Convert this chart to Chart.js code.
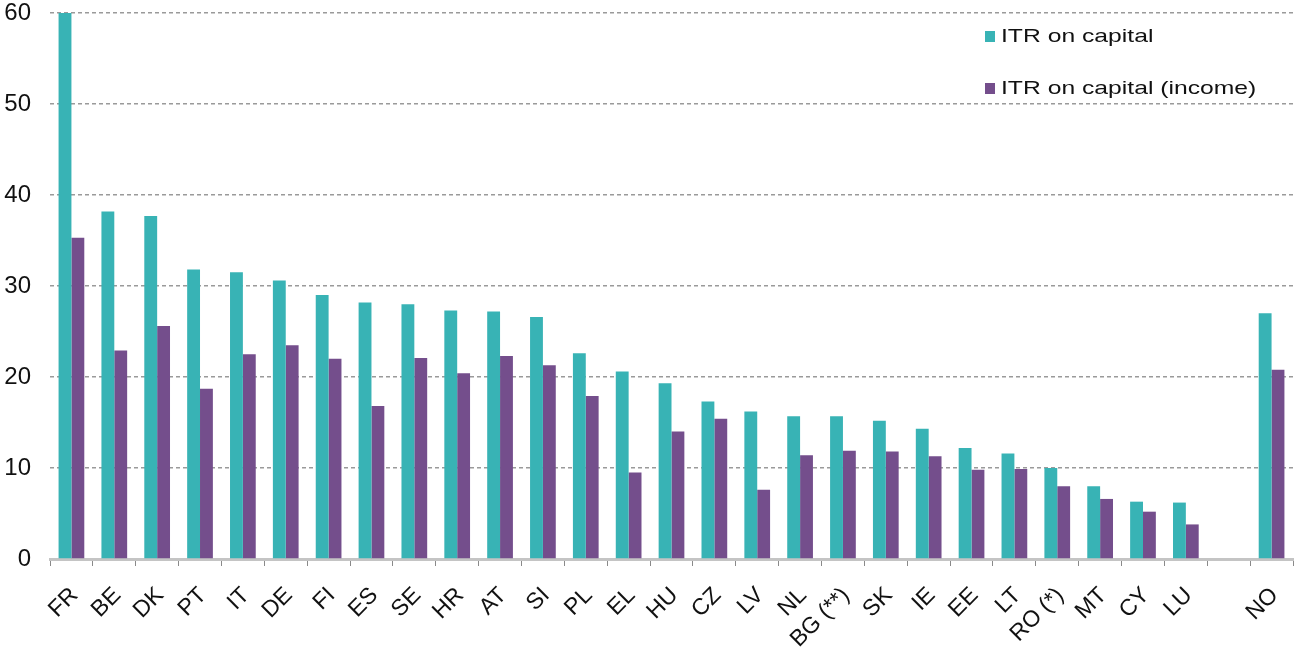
<!DOCTYPE html>
<html>
<head>
<meta charset="utf-8">
<script src="https://cdn.jsdelivr.net/npm/chart.js@4.4.1/dist/chart.umd.min.js"></script>
<style>
html,body{margin:0;padding:0;background:#fff;}
#c{display:block;}
</style>
</head>
<body>
<canvas id="c" width="1299" height="653"></canvas>
<script>
const categories = ['FR','BE','DK','PT','IT','DE','FI','ES','SE','HR','AT','SI','PL','EL','HU','CZ','LV','NL','BG (**)','SK','IE','EE','LT','RO (*)','MT','CY','LU','','NO'];
const itrCapital = [60.0, 38.2, 37.7, 31.8, 31.5, 30.6, 29.0, 28.2, 28.0, 27.3, 27.2, 26.6, 22.6, 20.6, 19.3, 17.3, 16.2, 15.7, 15.7, 15.2, 14.3, 12.2, 11.6, 10.0, 8.0, 6.3, 6.2, null, 27.0];
const itrCapitalIncome = [35.3, 22.9, 25.6, 18.7, 22.5, 23.5, 22.0, 16.8, 22.1, 20.4, 22.3, 21.3, 17.9, 9.5, 14.0, 15.4, 7.6, 11.4, 11.9, 11.8, 11.3, 9.8, 9.9, 8.0, 6.6, 5.2, 3.8, null, 20.8];
const seriesNames = ['ITR on capital', 'ITR on capital (income)'];
const yTicks = [0, 10, 20, 30, 40, 50, 60];

const COLORS = ['#38b3b5', '#744e8c'];
const FONT = "'Liberation Sans', Arial, sans-serif";

const legendPlugin = {
  id: 'insideLegend',
  afterDraw(chart) {
    const ctx = chart.ctx;
    ctx.save();
    const x0 = 985, rows = [36, 88];
    chart.data.datasets.forEach((ds, i) => {
      const y = rows[i];
      ctx.fillStyle = ds.backgroundColor;
      ctx.fillRect(x0, y - 5, 10, 11);
      ctx.save();
      ctx.translate(x0 + 16, y + 6);
      ctx.scale(1.3, 1);
      ctx.fillStyle = '#111';
      ctx.font = '19px ' + FONT;
      ctx.textBaseline = 'alphabetic';
      ctx.textAlign = 'left';
      ctx.fillText(ds.label, 0, 0);
      ctx.restore();
    });
    ctx.restore();
  }
};

new Chart(document.getElementById('c'), {
  type: 'bar',
  data: {
    labels: categories,
    datasets: [
      { label: seriesNames[0], data: itrCapital, backgroundColor: COLORS[0], borderWidth: 0 },
      { label: seriesNames[1], data: itrCapitalIncome, backgroundColor: COLORS[1], borderWidth: 0 }
    ]
  },
  options: {
    responsive: false,
    animation: false,
    devicePixelRatio: 1,
    layout: { padding: { top: 13, right: 6, left: 0, bottom: 0 } },
    plugins: { legend: { display: false }, tooltip: { enabled: false } },
    datasets: { bar: { categoryPercentage: 0.6, barPercentage: 1.0 } },
    scales: {
      x: {
        offset: true,
        grid: { display: true, drawOnChartArea: false, drawTicks: true, tickLength: 7, offset: true, color: '#8a8a8a', lineWidth: 1 },
        border: { display: true, color: '#c4c4c4', width: 3 },
        ticks: { autoSkip: false, maxRotation: 45, minRotation: 45, padding: 16, labelOffset: 3, color: '#111', font: { family: FONT, size: 23 } },
        afterFit(scale) { scale.height = 94; scale.paddingLeft = 0; scale.paddingRight = 0; }
      },
      y: {
        min: 0, max: 60,
        afterBuildTicks(scale) { scale.ticks = yTicks.map(v => ({ value: v })); },
        grid: { display: true, drawTicks: false, color: '#9a9a9a', lineWidth: 1.5 },
        border: { display: false, dash: [4, 3] },
        ticks: { padding: 19, color: '#111', font: { family: FONT, size: 24 } },
        afterFit(scale) { scale.width = 50; scale.paddingTop = 0; scale.paddingBottom = 0; }
      }
    }
  },
  plugins: [legendPlugin]
});
</script>
</body>
</html>
